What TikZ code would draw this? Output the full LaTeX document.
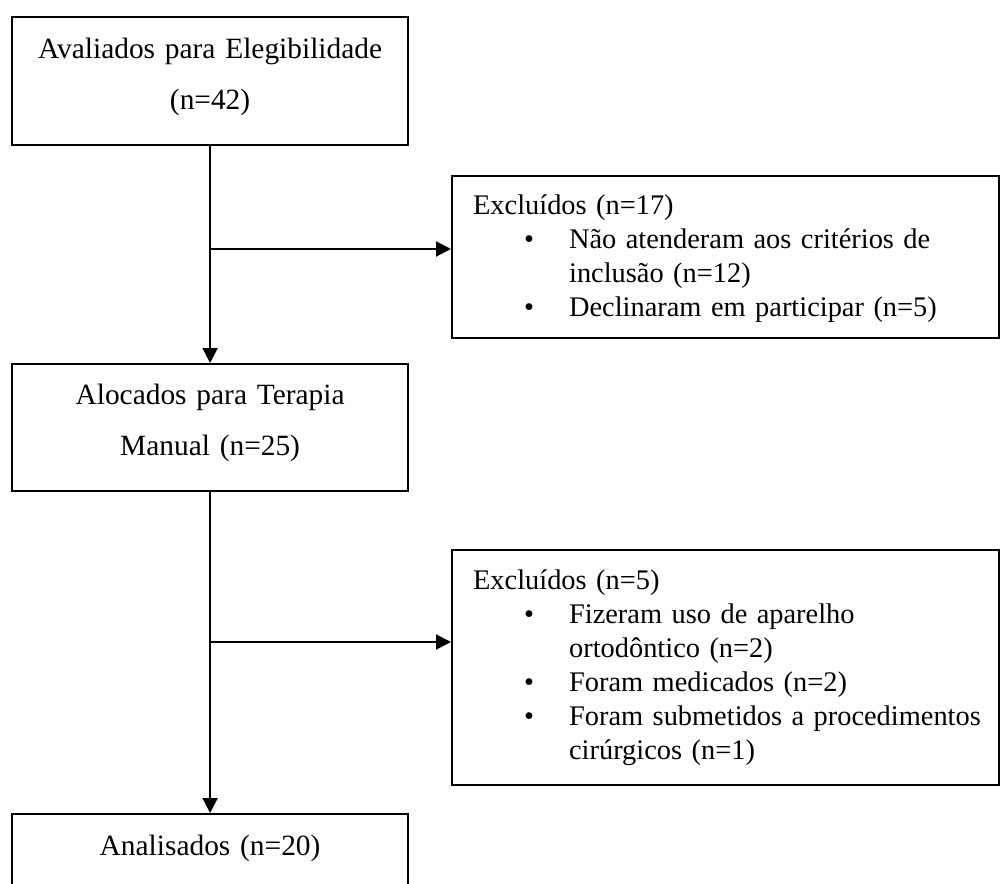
\documentclass[tikz,border=0pt]{standalone}
\usepackage{fontspec}
\setmainfont[WordSpace=0.8]{Liberation Serif}
\usetikzlibrary{arrows.meta}
\newcommand\bulitem[1]{\hspace*{72pt}\makebox[45pt][l]{•}#1}
\newcommand\contline[1]{\hspace*{117pt}#1}
\begin{document}
\begin{tikzpicture}[x=1pt,y=-1pt,
  box/.style={draw=black, line width=2.2pt, inner sep=0pt, anchor=north west,
    font=\fontsize{28.4}{34}\selectfont},
  cbox/.style={box, align=center, text width=396pt, minimum width=396pt,
    font=\fontsize{29.4}{51}\selectfont},
  lbox/.style={box, align=left, text width=547pt, minimum width=547pt},
  link/.style={line width=2pt, -{Triangle[length=15pt,width=15pt]}}]
\fill[white] (0,0) rectangle (1000,883);
\clip (0,0) rectangle (1000,883);

\node[cbox, text height=41pt, text depth=87pt] (b1) at (11,16)
  {Avaliados para Elegibilidade\\(n=42)};
\node[lbox, text height=38pt, text depth=124pt] (b2) at (451,175)
  {\hspace*{21pt}Excluídos (n=17)\\
   \bulitem{Não atenderam aos critérios de}\\
   \contline{inclusão (n=12)}\\
   \bulitem{Declinaram em participar (n=5)}};
\node[cbox, text height=40pt, text depth=87pt] (b3) at (11,363)
  {Alocados para Terapia\\Manual (n=25)};
\node[lbox, text height=39pt, text depth=196pt] (b4) at (451,549)
  {\hspace*{21pt}Excluídos (n=5)\\
   \bulitem{Fizeram uso de aparelho}\\
   \contline{ortodôntico (n=2)}\\
   \bulitem{Foram medicados (n=2)}\\
   \bulitem{Foram submetidos a procedimentos}\\
   \contline{cirúrgicos (n=1)}};
\node[cbox, text height=41pt, text depth=79pt] (b5) at (11,813)
  {Analisados (n=20)};

\coordinate (j1) at (209,249);
\coordinate (j2) at (209,642);
\draw[link] (b1.south) -- (b3.north);
\draw[link] (b3.south) -- (b5.north);
\draw[link] (j1) -- (j1 -| b2.west);
\draw[link] (j2) -- (j2 -| b4.west);
\end{tikzpicture}
\end{document}
